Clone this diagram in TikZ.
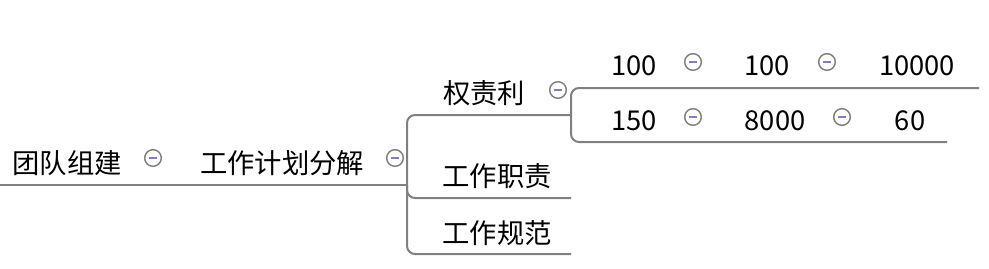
\documentclass[tikz,border=0pt]{standalone}
\usepackage{fontspec}
\setmainfont{Noto Sans CJK SC}
\definecolor{branchgray}{HTML}{808080}
\definecolor{foldblue}{HTML}{7B82BE}
\tikzset{
    branch/.style={draw=branchgray, line width=1.5pt, rounded corners=6pt},
    topic/.style={anchor=base, inner sep=0pt, font=\fontsize{20.5pt}{24pt}\selectfont},
    fold/.style={circle, draw=branchgray, line width=1.1pt, fill=white,
        minimum size=12.5pt, inner sep=0pt,
        path picture={\draw[foldblue, line width=1.4pt]
            ([xshift=-3.2pt]path picture bounding box.center) --
            ([xshift=3.2pt]path picture bounding box.center);}}
}
\begin{document}
\begin{tikzpicture}[x=0.75pt, y=-0.75pt]

    \useasboundingbox (0,0) rectangle (989,268);

    % 1. Topics (text sits on its branch line)
    \node[topic] (team)  at (67,173)  {团队组建};
    \node[topic] (plan)  at (282,173) {工作计划分解};
    \node[topic] (power) at (484,103) {权责利};
    \node[topic] (duty)  at (497,186) {工作职责};
    \node[topic] (norm)  at (497,243) {工作规范};

    % numbers in the two rows
    \foreach \x/\y/\name/\val in {
        634/75/a1/100,  767/75/a2/100,  917/75/a3/10000,
        634/130/b1/150, 775/130/b2/8000, 910/130/b3/60%
    } {
        \node[topic] (\name) at (\x,\y) {\val};
    }

    % 2. Branch end points
    \coordinate (rootstart) at (0,185);
    \coordinate (fork)      at (407,185);
    \coordinate (powerend)  at (571,115);
    \coordinate (dutyend)   at (571,198);
    \coordinate (normend)   at (571,254);
    \coordinate (rowaend)   at (979,88);
    \coordinate (rowbend)   at (947,142);

    % 3. Branches
    \draw[branch] (rootstart) -- (fork);
    \draw[branch] (fork) |- (powerend);
    \draw[branch] (fork) |- (dutyend);
    \draw[branch] (fork) |- (normend);
    \draw[branch] (powerend) |- (rowaend);
    \draw[branch] (powerend) |- (rowbend);

    % 4. Collapse buttons
    \foreach \x/\y/\name in {
        153/158/teamfold, 395/158/planfold, 558/90/powerfold,
        693/62/a1fold, 827/62/a2fold, 693/117/b1fold, 842/117/b2fold%
    } {
        \node[fold] (\name) at (\x,\y) {};
    }

\end{tikzpicture}
\end{document}
